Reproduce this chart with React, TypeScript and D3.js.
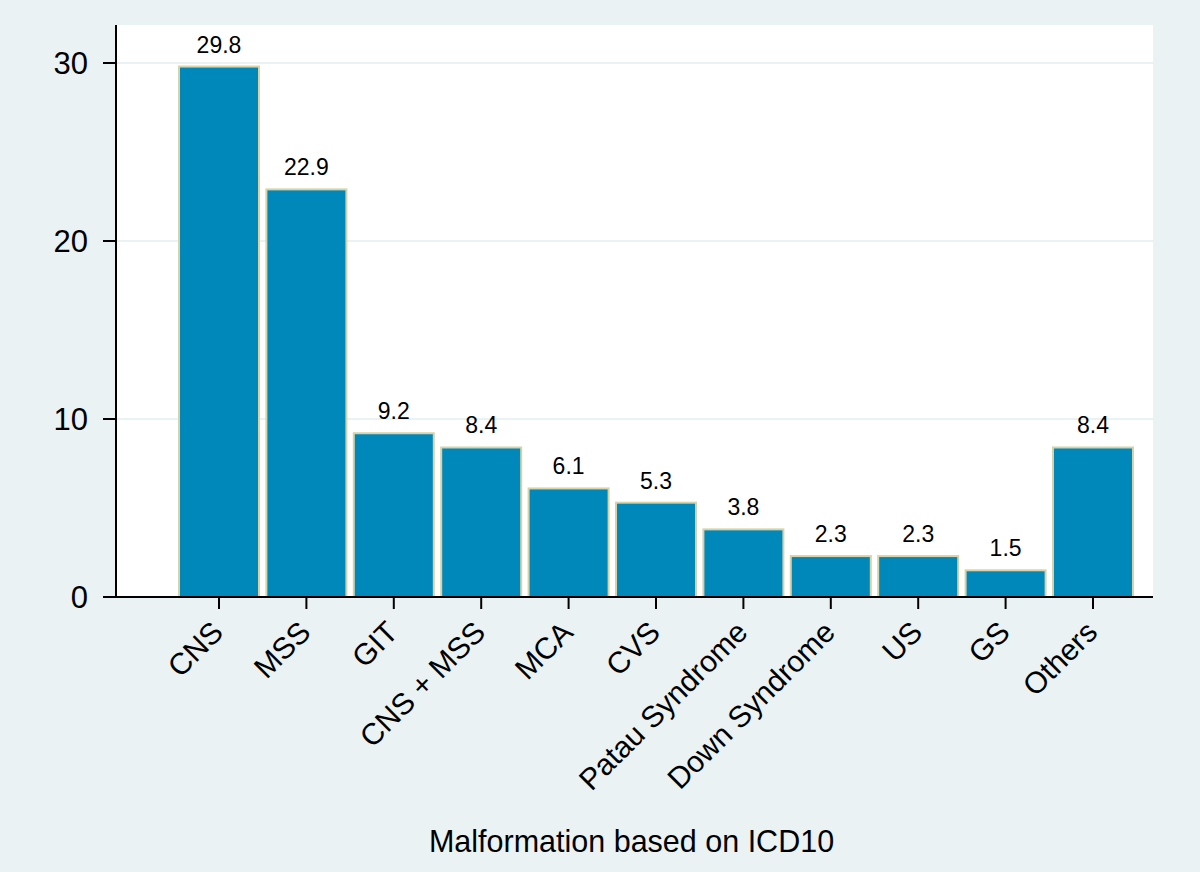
import React from "react";
import * as d3 from "d3";

const categories = ["CNS", "MSS", "GIT", "CNS + MSS", "MCA", "CVS", "Patau Syndrome", "Down Syndrome", "US", "GS", "Others"];
const values = [29.8, 22.9, 9.2, 8.4, 6.1, 5.3, 3.8, 2.3, 2.3, 1.5, 8.4];
const yTicks = [0, 10, 20, 30];
const xTitle = "Malformation based on ICD10";

const W = 1200;
const H = 872;
const plot = { left: 116, right: 1153, top: 25, bottom: 597 };
const FONT = "'Liberation Sans', Arial, Helvetica, sans-serif";

export default function App() {
  const y = d3.scaleLinear().domain([0, 30]).range([597, 63]);
  const x = d3.scalePoint<string>().domain(categories).range([219, 1093]);
  const barW = 80;

  return (
    <svg
      width={W}
      height={H}
      viewBox={`0 0 ${W} ${H}`}
      style={{ position: "absolute", left: 0, top: 0, display: "block" }}
      fontFamily={FONT}
    >
      <rect x={0} y={0} width={W} height={H} fill="#EAF2F3" />
      <rect
        x={plot.left}
        y={plot.top}
        width={plot.right - plot.left}
        height={plot.bottom - plot.top}
        fill="#FFFFFF"
      />
      {yTicks.filter((t) => t > 0).map((t) => (
        <line
          key={"g" + t}
          x1={plot.left}
          x2={plot.right}
          y1={y(t)}
          y2={y(t)}
          stroke="#EAF2F3"
          strokeWidth={2}
        />
      ))}
      {categories.map((c, i) => {
        const cx = x(c) as number;
        return (
          <rect
            key={"b" + c}
            x={cx - barW / 2}
            y={y(values[i])}
            width={barW}
            height={y(0) - y(values[i])}
            fill="#0088BB"
            stroke="#D8D3A6"
            strokeWidth={2}
          />
        );
      })}
      {categories.map((c, i) => (
        <text
          key={"l" + c}
          x={x(c) as number}
          y={y(values[i]) - 14}
          textAnchor="middle"
          fontSize={23}
          fill="#000"
        >
          {values[i].toFixed(1)}
        </text>
      ))}
      <line x1={plot.left} x2={plot.left} y1={plot.top} y2={plot.bottom + 1} stroke="#000" strokeWidth={2} />
      <line x1={plot.left - 1} x2={plot.right} y1={plot.bottom} y2={plot.bottom} stroke="#000" strokeWidth={2} />
      {yTicks.map((t) => (
        <g key={"yt" + t}>
          <line x1={plot.left - 13} x2={plot.left} y1={y(t)} y2={y(t)} stroke="#000" strokeWidth={2} />
          <text x={plot.left - 28} y={y(t) + 11} textAnchor="end" fontSize={31} fill="#000">
            {t}
          </text>
        </g>
      ))}
      {categories.map((c) => {
        const cx = x(c) as number;
        return (
          <g key={"xt" + c}>
            <line x1={cx} x2={cx} y1={plot.bottom} y2={plot.bottom + 12} stroke="#000" strokeWidth={2} />
            <text
              transform={`translate(${cx + 6},${plot.bottom + 37}) rotate(-45)`}
              textAnchor="end"
              fontSize={30}
              fill="#000"
            >
              {c}
            </text>
          </g>
        );
      })}
      <text x={(plot.left + plot.right) / 2 - 3} y={852} textAnchor="middle" fontSize={30.5} fill="#000">
        {xTitle}
      </text>
    </svg>
  );
}
